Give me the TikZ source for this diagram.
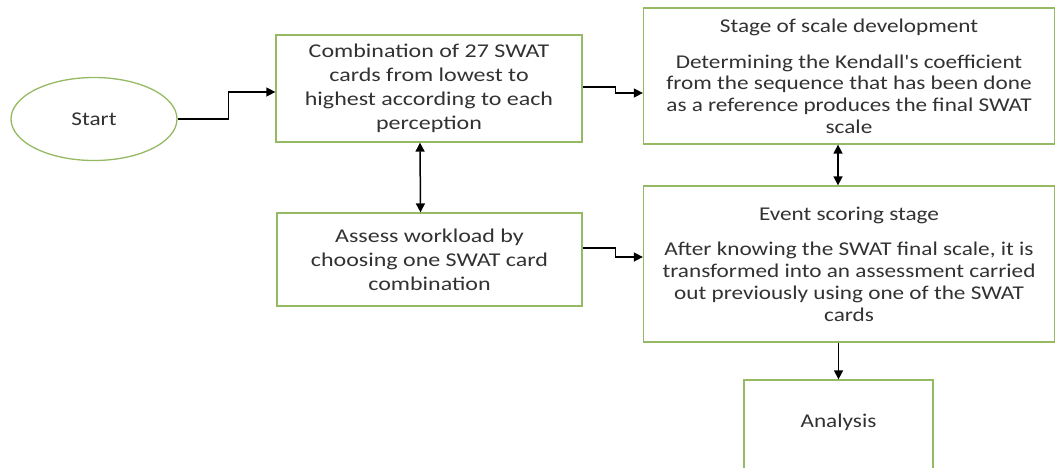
\documentclass[tikz,border=0pt]{standalone}
\usepackage{fontspec}
\setmainfont{Carlito}
\newfontfamily\widefont[FakeStretch=1.23]{Carlito}
\newfontfamily\midfont[FakeStretch=1.19]{Carlito}
\usetikzlibrary{arrows.meta,shapes.geometric}

\definecolor{boxline}{RGB}{150,185,100}
\definecolor{txtgray}{RGB}{50,50,50}

\begin{document}
\begin{tikzpicture}[x=1pt, y=-1pt, >={Triangle[length=9pt,width=9pt]}, line cap=butt, line join=miter,
  stagebox/.style={draw=boxline, line width=1.3pt, fill=white, text=txtgray, align=center, inner sep=0pt,
    font=\midfont\fontsize{19.5}{21.7}\selectfont},
  widebox/.style={stagebox, font=\widefont\fontsize{19.5}{24}\selectfont},
  link/.style={->, line width=1.5pt, black}]
\useasboundingbox (0,0) rectangle (1056,467);

% start and stages
\node[stagebox, ellipse, minimum width=166, minimum height=83] (start) at (94,119) {Start};
\node[widebox, minimum width=306, minimum height=107] (combine) at (429,88.5)
  {Combination of 27 SWAT\\cards from lowest to\\highest according to each\\perception};
\node[widebox, minimum width=305, minimum height=93] (assess) at (429.5,259.5)
  {Assess workload by\\choosing one SWAT card\\combination};
\node[stagebox, minimum width=411, minimum height=136] (scale) at (849,76)
  {Stage of scale development\\[14pt]Determining the Kendall's coefficient\\from the sequence that has been done\\as a reference produces the final SWAT\\scale};
\node[stagebox, minimum width=411, minimum height=156] (event) at (849,264)
  {Event scoring stage\\[14pt]After knowing the SWAT final scale, it is\\transformed into an assessment carried\\out previously using one of the SWAT\\cards};
\node[stagebox, minimum width=189, minimum height=100, text height=14pt, text depth=20pt] (analysis) at (838.5,430) {Analysis};

% connectors
\draw[link] (start.east) -- ++(51,0) |- ([yshift=-3.5pt]combine.west);
\draw[link] ([yshift=1.5pt]combine.east) -- ++(33,0) |- ([yshift=-17pt]scale.west);
\draw[link, <->] ([xshift=-9pt]combine.south) -- ([xshift=-9pt]assess.north);
\draw[link, <->] ([xshift=-11pt]scale.south) -- ([xshift=-11pt]event.north);
\draw[link] ([yshift=11.5pt]assess.east) -- ++(33,0) |- ([yshift=7pt]event.west);
\draw[link] (event.south -| analysis.north) -- (analysis.north);

\end{tikzpicture}
\end{document}
